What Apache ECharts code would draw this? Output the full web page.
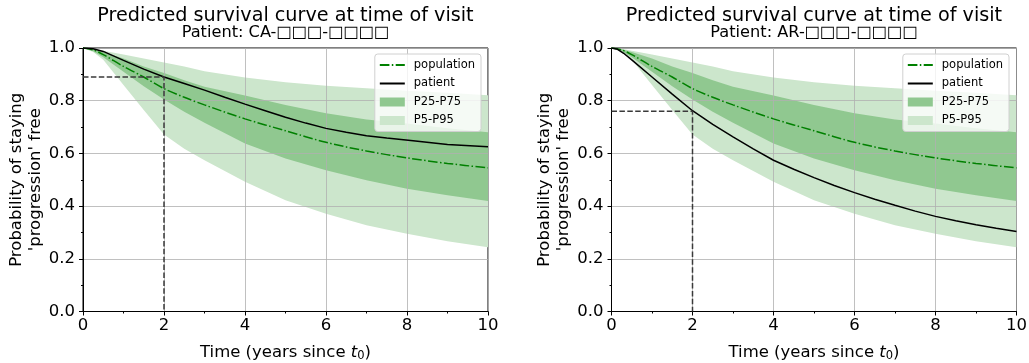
<!DOCTYPE html>
<html>
<head>
<meta charset="utf-8">
<script src="https://cdn.jsdelivr.net/npm/echarts@6/dist/echarts.min.js"></script>
<style>
  html, body { margin: 0; padding: 0; background: #fff; }
  #chart { width: 1029px; height: 363px; }
</style>
</head>
<body>
<div id="chart"></div>
<script>
// time points (years since t0) for the population curve and its bands
const tYears   = [0, 0.25, 0.5, 1, 1.5, 2, 2.5, 3, 4, 5, 6, 7, 8, 9, 10];
const popCurve = [1, 0.993, 0.975, 0.93, 0.89, 0.846, 0.813, 0.784, 0.731, 0.686, 0.642, 0.609, 0.583, 0.562, 0.545];
const p95      = [1, 0.997, 0.99, 0.975, 0.96, 0.945, 0.93, 0.912, 0.888, 0.87, 0.857, 0.847, 0.838, 0.83, 0.821];
const p75      = [1, 0.995, 0.985, 0.96, 0.93, 0.905, 0.878, 0.853, 0.82, 0.784, 0.752, 0.729, 0.713, 0.695, 0.68];
const p25      = [1, 0.988, 0.965, 0.91, 0.855, 0.805, 0.758, 0.716, 0.638, 0.581, 0.536, 0.498, 0.466, 0.441, 0.419];
const p5       = [1, 0.985, 0.955, 0.86, 0.765, 0.672, 0.618, 0.574, 0.492, 0.422, 0.371, 0.327, 0.295, 0.267, 0.244];

// patient CA
const tCA    = [0, 0.25, 0.5, 0.75, 1, 1.5, 2, 2.5, 3, 3.5, 4, 4.5, 5, 5.5, 6, 6.5, 7, 7.5, 8.15, 8.15, 9, 10];
const survCA = [1, 0.997, 0.987, 0.97, 0.953, 0.92, 0.89, 0.865, 0.84, 0.813, 0.787, 0.762, 0.737, 0.715, 0.695, 0.68, 0.667, 0.658, 0.648, 0.641, 0.634, 0.625];
// patient AR
const tAR    = [0, 0.15, 0.3, 0.5, 1, 1.5, 2, 2.5, 3, 3.5, 4, 4.5, 5, 5.5, 6, 6.5, 7, 7.5, 8, 8.5, 9, 9.5, 10];
const survAR = [1, 0.995, 0.98, 0.955, 0.89, 0.825, 0.762, 0.71, 0.663, 0.617, 0.574, 0.54, 0.508, 0.478, 0.451, 0.426, 0.403, 0.381, 0.361, 0.344, 0.329, 0.316, 0.304];

const visitTime = 2;
const visitSurv = [0.89, 0.76];
const patientIds = ['CA-□□□-□□□□', 'AR-□□□-□□□□'];
const patientT = [tCA, tAR];
const patientS = [survCA, survAR];

const FONT = 'DejaVu Sans';
const gridLeft = [83, 611.5];
const gridW = 405;

function bandSeries(name, lo, hi, color, idx) {
  return {
    type: 'custom',
    name: name,
    xAxisIndex: idx,
    yAxisIndex: idx,
    z: 0.5,
    itemStyle: { color: color },
    data: tYears.map((t, i) => [t, lo[i], hi[i]]),
    encode: { x: 0, y: [1, 2] },
    renderItem: function (params, api) {
      if (params.dataIndex !== 0) return null;
      const upper = tYears.map((t, i) => api.coord([t, hi[i]]));
      const lower = tYears.map((t, i) => api.coord([t, lo[i]])).reverse();
      return { type: 'polygon', shape: { points: upper.concat(lower) }, style: { fill: color } };
    }
  };
}

function panelSeries(i) {
  return [
    bandSeries('P5-P95', p5, p95, '#cce6cc', i),
    bandSeries('P25-P75', p25, p75, '#90c890', i),
    {
      type: 'line', name: 'population', xAxisIndex: i, yAxisIndex: i, z: 3,
      symbol: 'none', smooth: 0.3,
      lineStyle: { color: '#008000', width: 1.5, type: [9.6, 2.4, 1.5, 2.4] },
      itemStyle: { color: '#008000' },
      data: tYears.map((t, k) => [t, popCurve[k]])
    },
    {
      type: 'line', name: 'patient', xAxisIndex: i, yAxisIndex: i, z: 4,
      symbol: 'none',
      lineStyle: { color: '#000', width: 1.5 },
      itemStyle: { color: '#000' },
      data: patientT[i].map((t, k) => [t, patientS[i][k]])
    },
    {
      type: 'line', name: 'visit', xAxisIndex: i, yAxisIndex: i, z: 5,
      symbol: 'none', silent: true,
      lineStyle: { color: '#3a3a3a', width: 1.5, type: [5.5, 2.4] },
      data: [[0, visitSurv[i]], [visitTime, visitSurv[i]], [visitTime, 0]]
    }
  ];
}

function xAxisFor(i) {
  return {
    type: 'value', gridIndex: i, min: 0, max: 10, interval: 2, z: 1,
    name: 'Time (years since {it|t}{sub|0})',
    nameLocation: 'middle', nameGap: 31,
    nameTextStyle: {
      fontFamily: FONT, fontSize: 16.5, color: '#000', lineHeight: 20,
      rich: {
        it: { fontFamily: FONT, fontSize: 16.5, fontStyle: 'italic', color: '#000', lineHeight: 20 },
        sub: { fontFamily: FONT, fontSize: 11.5, color: '#000', lineHeight: 12, verticalAlign: 'bottom' }
      }
    },
    axisLine: { show: true, onZero: false, lineStyle: { color: '#000', width: 1 } },
    axisTick: { show: true, length: 4, lineStyle: { color: '#000' } },
    minorTick: { show: true, splitNumber: 2, length: 2, lineStyle: { color: '#000' } },
    axisLabel: { fontFamily: FONT, fontSize: 16.5, color: '#000', margin: 6 },
    splitLine: { show: true, lineStyle: { color: '#b0b0b0', width: 0.8 } }
  };
}

function yAxisFor(i) {
  return {
    type: 'value', gridIndex: i, min: 0, max: 1, interval: 0.2, z: 1,
    name: "Probability of staying\n'progression' free",
    nameLocation: 'middle', nameGap: 38, nameRotate: 90,
    nameTextStyle: { fontFamily: FONT, fontSize: 16.5, color: '#000', lineHeight: 19 },
    axisLine: { show: true, onZero: false, lineStyle: { color: '#000', width: 1 } },
    axisTick: { show: true, length: 4, lineStyle: { color: '#000' } },
    minorTick: { show: true, splitNumber: 2, length: 2, lineStyle: { color: '#000' } },
    axisLabel: { fontFamily: FONT, fontSize: 16.5, color: '#000', margin: 8,
      formatter: v => v.toFixed(1) },
    splitLine: { show: true, lineStyle: { color: '#b0b0b0', width: 0.8 } }
  };
}

function legendFor(i, right) {
  return {
    orient: 'vertical', right: right, top: 54,
    padding: [5, 6, 5, 4],
    itemWidth: 25, itemHeight: 9, itemGap: 6.5,
    backgroundColor: 'rgba(255,255,255,0.8)',
    borderColor: '#d0d0d0', borderWidth: 1, borderRadius: 3,
    textStyle: { fontFamily: FONT, fontSize: 11.5, color: '#000', padding: [0, 0, 0, 4] },
    data: [
      { name: 'population', itemStyle: { opacity: 0 } },
      { name: 'patient', itemStyle: { opacity: 0 } },
      { name: 'P25-P75', icon: 'rect' },
      { name: 'P5-P95', icon: 'rect' }
    ]
  };
}

const titles = [];
for (let i = 0; i < 2; i++) {
  const cx = gridLeft[i] + gridW / 2;
  titles.push({
    text: 'Predicted survival curve at time of visit',
    left: cx, top: 6.5, textAlign: 'center', padding: 0,
    textStyle: { fontFamily: FONT, fontSize: 19.2, fontWeight: 'normal', color: '#000' }
  });
  titles.push({
    text: 'Patient: ' + patientIds[i],
    left: cx, top: 24.5, textAlign: 'center', padding: 0,
    textStyle: { fontFamily: FONT, fontSize: 16.2, fontWeight: 'normal', color: '#000' }
  });
}

const gridBase = {
  top: 48, width: gridW, height: 263.5, show: true,
  borderColor: '#000', borderWidth: 1, backgroundColor: 'transparent',
  containLabel: false, outerBoundsMode: 'none'
};

const chart = echarts.init(document.getElementById('chart'), null, { renderer: 'canvas' });
chart.setOption({
  animation: false,
  backgroundColor: '#fff',
  textStyle: { fontFamily: FONT },
  title: titles,
  legend: [legendFor(0, 1029 - 481), legendFor(1, 1029 - 1009)],
  grid: [
    Object.assign({ left: gridLeft[0] }, gridBase),
    Object.assign({ left: gridLeft[1] }, gridBase)
  ],
  xAxis: [xAxisFor(0), xAxisFor(1)],
  yAxis: [yAxisFor(0), yAxisFor(1)],
  series: panelSeries(0).concat(panelSeries(1))
});
</script>
</body>
</html>
